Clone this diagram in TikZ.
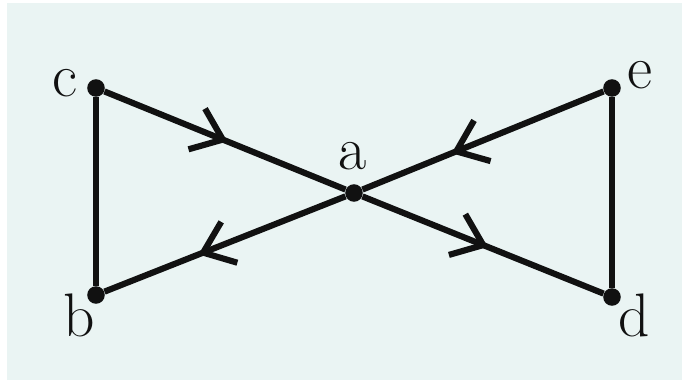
\documentclass[tikz,border=0pt]{standalone}
\usepackage{tikz}
\usetikzlibrary{arrows.meta,decorations.markings}
\definecolor{graph-bg}{HTML}{EAF4F3}
\definecolor{graph-ink}{HTML}{111111}

\begin{document}
\begin{tikzpicture}[
  x=0.02cm, y=-0.02cm,
  vertex/.style={
    circle, fill=graph-ink,
    inner sep=0pt, minimum size=10pt
  },
  lbl/.style={
    inner sep=0pt, text=graph-ink,
    font=\fontsize{35}{42}\selectfont
  },
  edge/.style={
    line width=3.5pt, draw=graph-ink
  },
  flow/.style={
    edge, postaction={decorate},
    decoration={markings, mark=at position #1 with
      {\arrow{Straight Barb[length=16pt,width=25pt]}}}
  }
]

%% Frame
\useasboundingbox (0,0) rectangle (684,381);
\fill[graph-bg] (7,3) rectangle (682,380);

%% Vertices
\node[vertex] (c) at (96,88) {};
\node[vertex] (b) at (96,295) {};
\node[vertex] (a) at (354,193) {};
\node[vertex] (e) at (612,88) {};
\node[vertex] (d) at (612,297) {};

%% Labels
\node[lbl] (lc) at (65,83) {c};
\node[lbl] (lb) at (79,315) {b};
\node[lbl] (la) at (353,156) {a};
\node[lbl] (le) at (640,75) {e};
\node[lbl] (ld) at (634,315) {d};

%% Edges
\draw[edge] (c) -- (b);
\draw[edge] (e) -- (d);
\draw[flow=0.51] (c) -- (a);
\draw[flow=0.52] (a) -- (d);
\draw[flow=0.63] (e) -- (a);
\draw[flow=0.61] (a) -- (b);

\end{tikzpicture}
\end{document}
